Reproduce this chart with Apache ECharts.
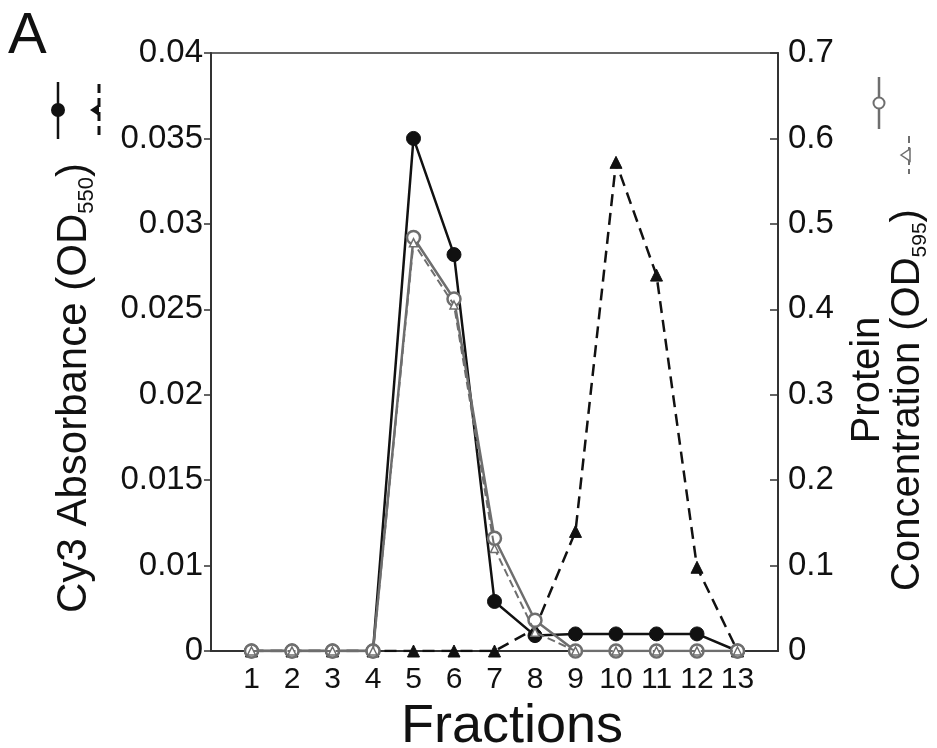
<!DOCTYPE html>
<html lang="en">
<head>
    <meta charset="UTF-8">
    <title>Fractions</title>
    <script src="https://cdn.jsdelivr.net/npm/echarts@6/dist/echarts.min.js"></script>
    <style>
        html, body { margin: 0; padding: 0; background: #fff; }
        #chart { width: 937px; height: 748px; }
    </style>
</head>
<body>
<div id="chart"></div>

<script>
    // fractions on the x axis
    var fractions = [1, 2, 3, 4, 5, 6, 7, 8, 9, 10, 11, 12, 13];

    // left axis tick labels, as printed (evenly spaced, bottom to top)
    var leftTickLabels = ['0', '0.01', '0.015', '0.02', '0.025', '0.03', '0.035', '0.04'];

    // Cy3 absorbance, left axis units (filled circles, solid line)
    var cy3Circle = [0, 0, 0, 0, 0.0300, 0.0232, 0.0029, 0.0009, 0.0010, 0.0010, 0.0010, 0.0010, 0];
    // Cy3 absorbance, left axis units (filled triangles, dashed line)
    var cy3Triangle = [0, 0, 0, 0, 0, 0, 0, 0.0013, 0.0070, 0.0286, 0.0220, 0.0049, 0];

    // protein concentration, right axis (open circles, solid gray line)
    var protCircle = [0, 0, 0, 0, 0.484, 0.412, 0.132, 0.036, 0, 0, 0, 0, 0];
    // protein concentration, right axis (open triangles, dashed gray line)
    var protTriangle = [0, 0, 0, 0, 0.478, 0.405, 0.120, 0.022, 0, 0, 0, 0, 0];

    function pairs(vals) {
        return fractions.map(function (f, i) { return [f, vals[i]]; });
    }

    var black = '#111';
    var gray = '#6e6e6e';
    var font = '"Liberation Sans", Arial, sans-serif';

    var chart = echarts.init(document.getElementById('chart'));

    var option = {
        animation: false,
        backgroundColor: '#fff',
        grid: {
            left: 211, right: 159, top: 53, bottom: 97,
            show: true, borderColor: '#333', borderWidth: 1.5,
            backgroundColor: 'transparent'
        },
        xAxis: {
            type: 'value', min: 0, max: 14, interval: 1,
            axisLine: { show: true, onZero: false, lineStyle: { color: '#333', width: 2 } },
            axisTick: { show: false },
            splitLine: { show: false },
            axisLabel: {
                margin: 14, fontSize: 30, fontFamily: font, color: '#111',
                formatter: function (v) { return (v >= 1 && v <= 13) ? String(v) : ''; }
            }
        },
        yAxis: [
            {
                type: 'value', min: 0, max: 0.035, interval: 0.005,
                position: 'left',
                axisLine: { show: true, lineStyle: { color: '#333', width: 2 } },
                axisTick: { show: true, inside: false, length: 7, lineStyle: { color: '#333', width: 1.5 } },
                splitLine: { show: false },
                axisLabel: {
                    margin: 8, fontSize: 33, fontFamily: font, color: '#111',
                    formatter: function (v) { return leftTickLabels[Math.round(v / 0.005)]; }
                }
            },
            {
                type: 'value', min: 0, max: 0.7, interval: 0.1,
                position: 'right',
                axisLine: { show: true, lineStyle: { color: '#333', width: 2 } },
                axisTick: { show: true, inside: true, length: 8, lineStyle: { color: '#333', width: 1.5 } },
                splitLine: { show: false },
                axisLabel: {
                    margin: 10, fontSize: 33, fontFamily: font, color: '#111',
                    formatter: function (v) { return v === 0 ? '0' : v.toFixed(1); }
                }
            }
        ],
        series: [
            {
                name: 'Cy3 triangle', type: 'line', yAxisIndex: 0,
                data: pairs(cy3Triangle),
                symbol: 'triangle', symbolSize: 12,
                lineStyle: { color: black, width: 2.5, type: [12, 7] },
                itemStyle: { color: black, borderColor: black, borderWidth: 1 },
                z: 2
            },
            {
                name: 'Cy3 circle', type: 'line', yAxisIndex: 0,
                data: pairs(cy3Circle),
                symbol: 'circle', symbolSize: 14,
                lineStyle: { color: black, width: 2.5 },
                itemStyle: { color: black, borderColor: black, borderWidth: 1 },
                z: 3
            },
            {
                name: 'Protein circle', type: 'line', yAxisIndex: 1,
                data: pairs(protCircle),
                symbol: 'circle', symbolSize: 13,
                lineStyle: { color: gray, width: 2.5 },
                itemStyle: { color: '#fff', borderColor: gray, borderWidth: 2.5 },
                z: 4
            },
            {
                name: 'Protein triangle', type: 'line', yAxisIndex: 1,
                data: pairs(protTriangle),
                symbol: 'triangle', symbolSize: 8,
                lineStyle: { color: gray, width: 2, type: [8, 4] },
                itemStyle: { color: '#fff', borderColor: gray, borderWidth: 1.5 },
                z: 5
            }
        ],
        graphic: [
            // panel letter
            { type: 'text', left: 8, top: 8, style: { text: 'A', font: '58px ' + font, fill: '#111' } },
            // x axis title
            { type: 'text', x: 512, y: 727, style: { text: 'Fractions', font: '54px ' + font, fill: '#111', align: 'center', verticalAlign: 'middle' } },
            // left axis title with subscript
            {
                type: 'text', x: 74, y: 388, rotation: Math.PI / 2,
                style: {
                    text: '{m|Cy3 Absorbance (OD}{s|550}{m|)}',
                    align: 'center', verticalAlign: 'middle', fill: '#111',
                    rich: {
                        m: { fontSize: 42, fontFamily: font, lineHeight: 48, fill: '#111' },
                        s: { fontSize: 22, fontFamily: font, lineHeight: 22, verticalAlign: 'bottom', fill: '#111' }
                    }
                }
            },
            // right axis title, two lines
            {
                type: 'text', x: 868, y: 380, rotation: Math.PI / 2,
                style: { text: 'Protein', font: '40px ' + font, fill: '#111', align: 'center', verticalAlign: 'middle' }
            },
            {
                type: 'text', x: 908, y: 400, rotation: Math.PI / 2,
                style: {
                    text: '{m|Concentration (OD}{s|595}{m|)}',
                    align: 'center', verticalAlign: 'middle', fill: '#111',
                    rich: {
                        m: { fontSize: 40, fontFamily: font, lineHeight: 46, fill: '#111' },
                        s: { fontSize: 21, fontFamily: font, lineHeight: 21, verticalAlign: 'bottom', fill: '#111' }
                    }
                }
            },
            // left legend keys
            { type: 'line', shape: { x1: 58, y1: 82, x2: 58, y2: 139 }, style: { stroke: black, lineWidth: 2.5 } },
            { type: 'circle', shape: { cx: 58, cy: 110, r: 7 }, style: { fill: black } },
            { type: 'line', shape: { x1: 99, y1: 84, x2: 99, y2: 136 }, style: { stroke: black, lineWidth: 3, lineDash: [9, 5] } },
            { type: 'polygon', shape: { points: [[90, 110], [99, 104], [99, 116]] }, style: { fill: black } },
            // right legend keys
            { type: 'line', shape: { x1: 879, y1: 77, x2: 879, y2: 129 }, style: { stroke: gray, lineWidth: 2.5 } },
            { type: 'circle', shape: { cx: 879, cy: 103, r: 5.5 }, style: { fill: '#fff', stroke: gray, lineWidth: 2 } },
            { type: 'line', shape: { x1: 909, y1: 136, x2: 909, y2: 174 }, style: { stroke: gray, lineWidth: 2, lineDash: [7, 4] } },
            { type: 'polygon', shape: { points: [[901, 155], [910, 149], [910, 161]] }, style: { fill: '#fff', stroke: gray, lineWidth: 1.5 } }
        ]
    };

    chart.setOption(option);
</script>

</body>
</html>
